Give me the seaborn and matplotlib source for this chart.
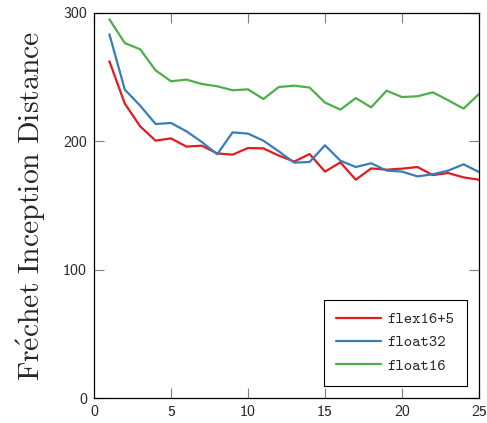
import matplotlib
matplotlib.use("Agg")
import matplotlib.pyplot as plt
import seaborn as sns
import pandas as pd

epochs = list(range(1, 26))
flex16_5 = [262.4, 229.4, 211.7, 200.5, 202.3, 195.9, 196.6, 190.6, 189.6, 194.8,
            194.5, 188.9, 184.2, 190.1, 176.4, 183.6, 170.1, 178.9, 177.9, 178.7,
            180.0, 173.7, 175.3, 171.9, 170.1]
float32 = [283.4, 240.3, 227.8, 213.5, 214.3, 207.8, 199.5, 189.9, 207.0, 206.0,
           200.5, 192.2, 183.4, 183.9, 196.9, 184.9, 180.0, 182.9, 177.2, 176.4,
           172.7, 174.3, 177.2, 182.1, 176.1]
float16 = [295.1, 276.6, 271.7, 255.3, 246.8, 248.1, 244.7, 242.9, 239.8, 240.5,
           233.0, 242.3, 243.4, 241.9, 230.2, 224.7, 233.7, 226.5, 239.5, 234.5,
           235.1, 238.2, 232.0, 225.5, 236.9]
series_names = ["flex16+5", "float32", "float16"]
colors = ["#e41a1c", "#377eb8", "#4daf4a"]
x_ticks = [0, 5, 10, 15, 20, 25]
y_ticks = [0, 100, 200, 300]

df = pd.concat([
    pd.DataFrame({"epoch": epochs, "fid": vals, "series": name})
    for name, vals in zip(series_names, [flex16_5, float32, float16])
])

sns.set_style("white")
plt.rcParams["mathtext.fontset"] = "cm"
plt.rcParams["axes.unicode_minus"] = False

fig = plt.figure(figsize=(4.87, 4.23), dpi=100)
ax = fig.add_axes([94 / 487, 1 - 398 / 423, 385 / 487, 385 / 423])

sns.lineplot(data=df, x="epoch", y="fid", hue="series", palette=colors,
             hue_order=series_names, linewidth=1.6, ax=ax)

ax.set_xlim(0, 25)
ax.set_ylim(0, 300)
ax.set_xticks(x_ticks)
ax.set_yticks(y_ticks)
ax.set_xlabel("")
ax.set_ylabel(r"$\mathrm{Fr\acute{e}chet\ Inception\ Distance}$", fontsize=21.4, labelpad=11)

for lab in ax.get_xticklabels() + ax.get_yticklabels():
    lab.set_family(["cmss10", "DejaVu Sans"])
    lab.set_fontsize(11.5)

ax.tick_params(direction="in", length=7.5, width=0.8, color="#7f7f7f",
               top=True, right=True, bottom=True, left=True, pad=5)
for sp in ax.spines.values():
    sp.set_color("black")
    sp.set_linewidth(0.9)
    sp.set_visible(True)

leg = ax.legend(loc="lower right", bbox_to_anchor=(373 / 385, 12 / 385),
                borderaxespad=0, frameon=True, fancybox=False,
                prop={"family": ["cmtt10", "DejaVu Sans Mono"], "size": 11.5},
                handlelength=2.8, labelspacing=0.5, borderpad=0.78,
                handletextpad=0.42)
leg.get_frame().set_edgecolor("black")
leg.get_frame().set_linewidth(0.8)
leg.get_frame().set_alpha(1)
for line in leg.get_lines():
    line.set_linewidth(1.6)

fig.savefig("out.png", dpi=100)
